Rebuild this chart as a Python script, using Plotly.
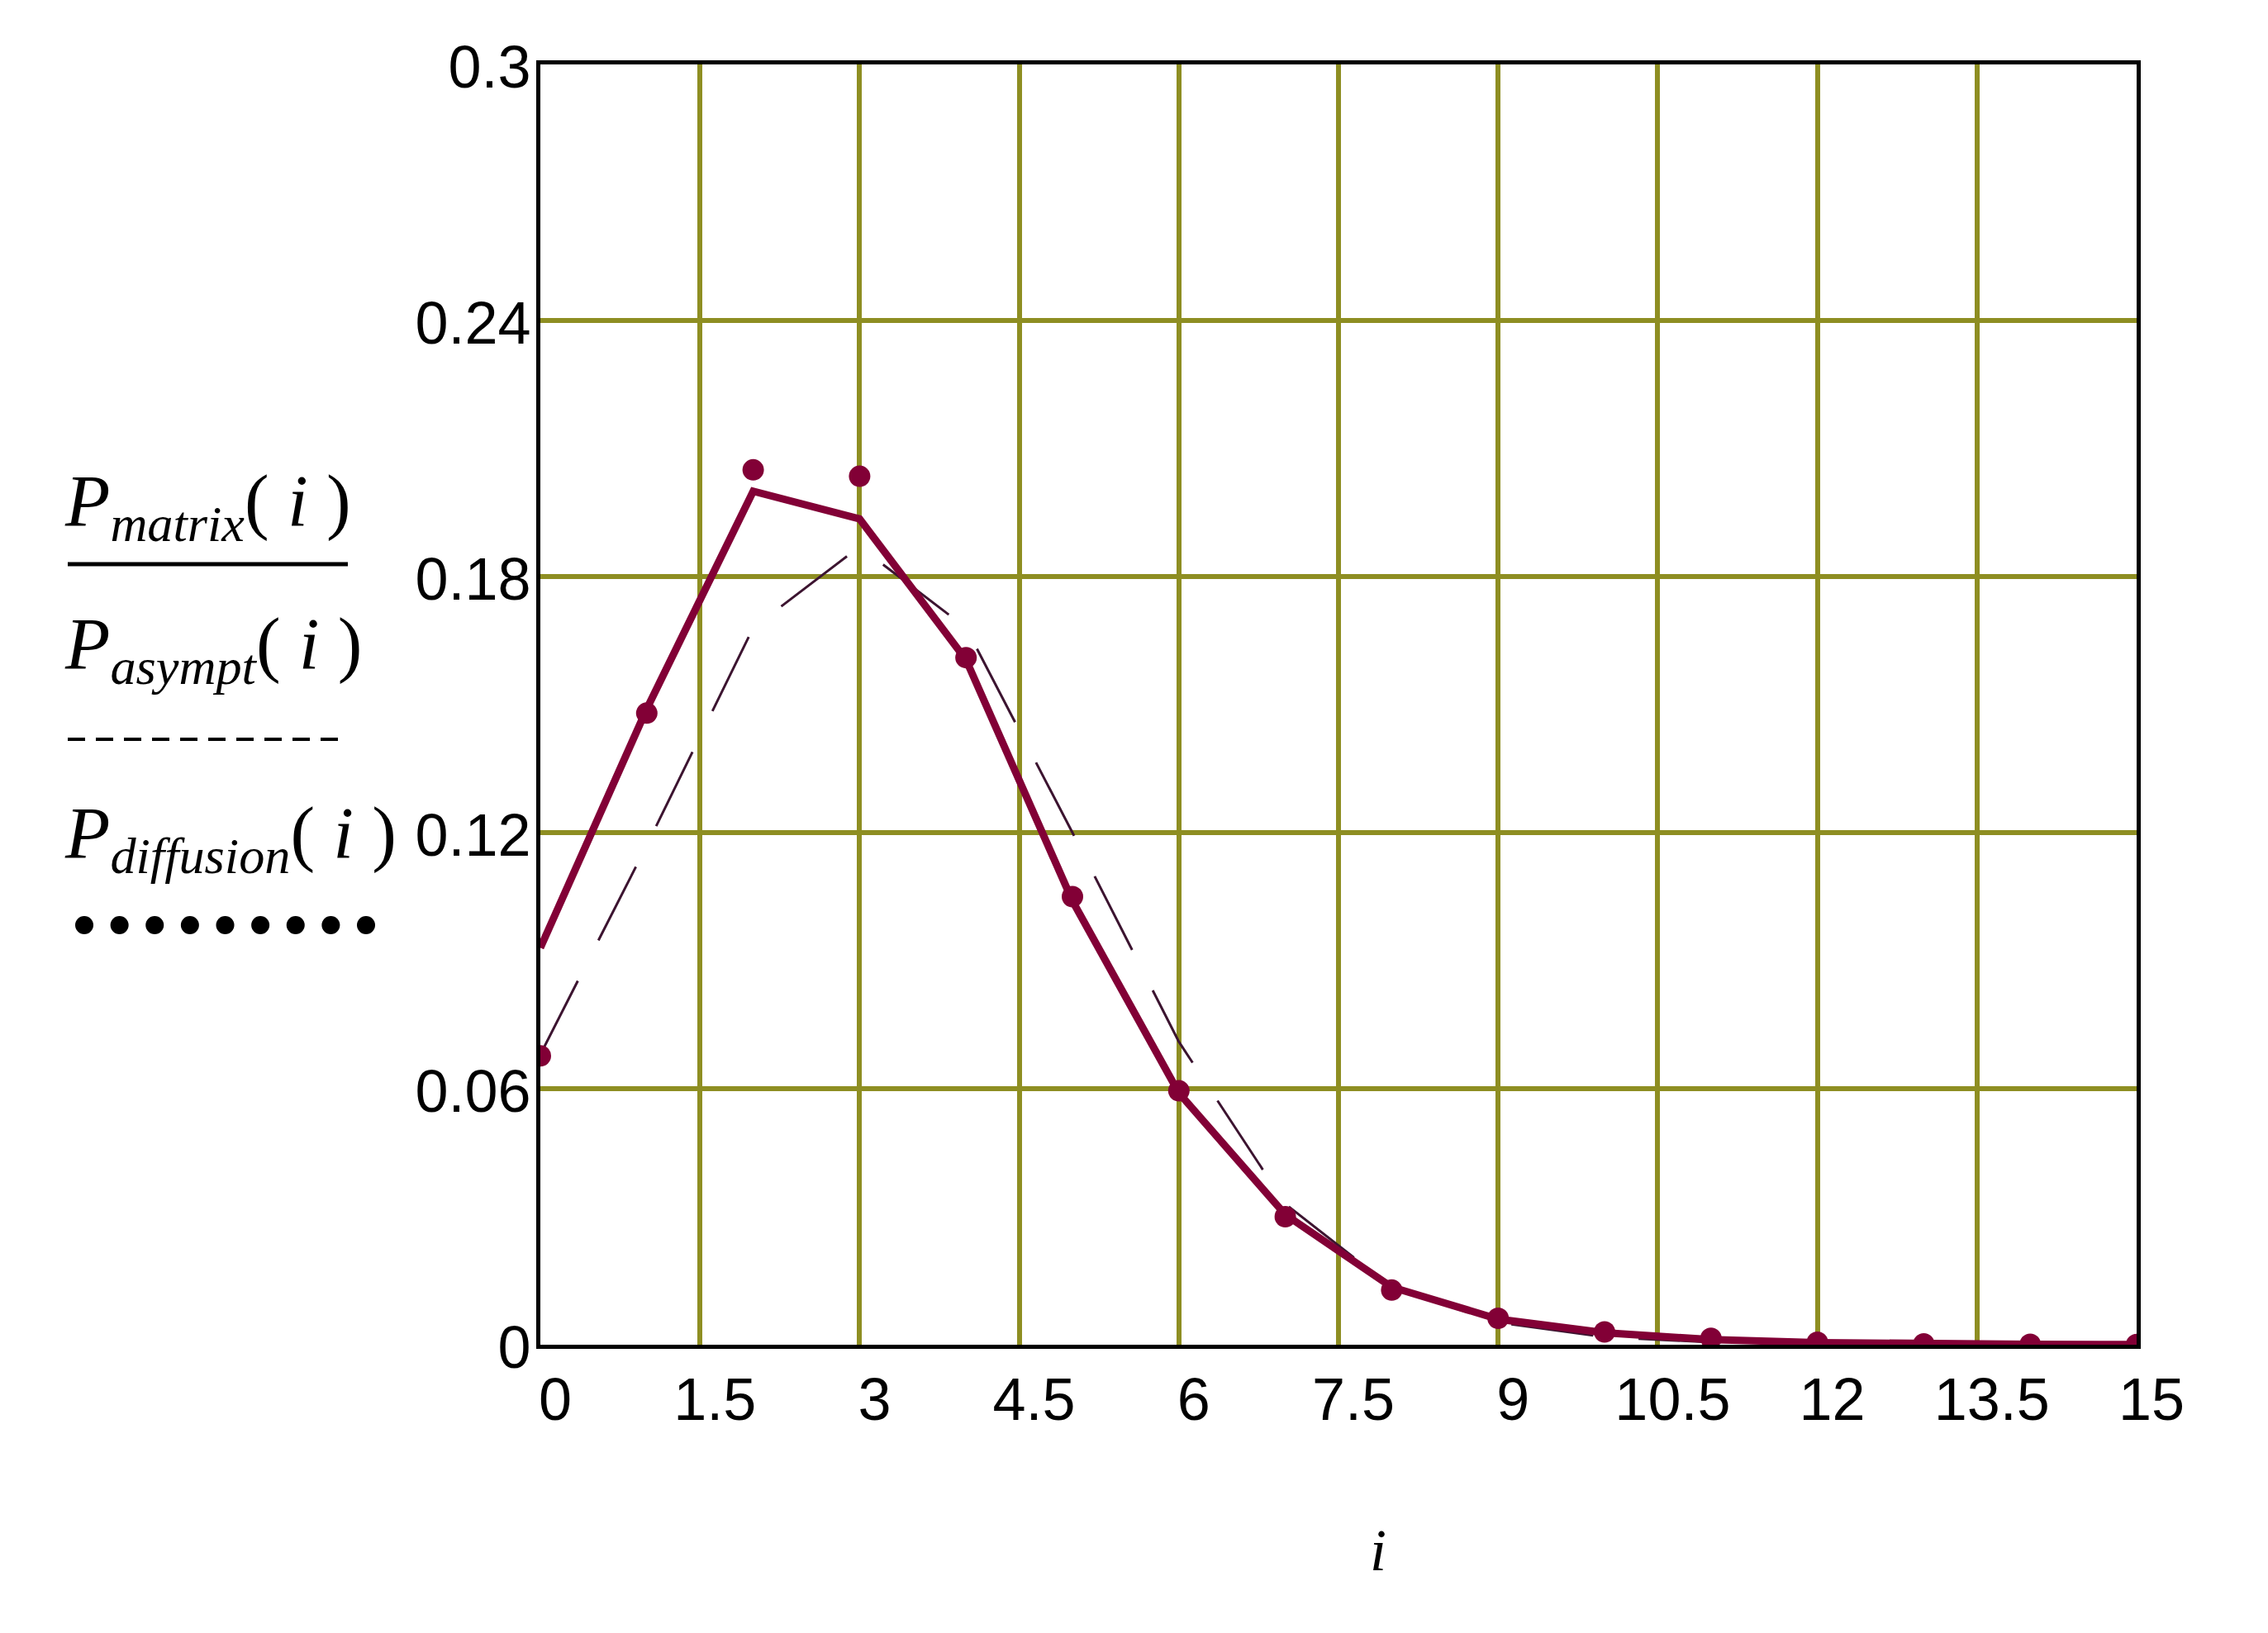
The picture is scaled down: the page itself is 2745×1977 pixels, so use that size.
import plotly.graph_objects as go

# ---- data ----
i_vals = list(range(16))
p_matrix = [0.093, 0.149, 0.2000, 0.1935, 0.1605, 0.104, 0.059, 0.0305,
            0.0135, 0.0060, 0.0028, 0.0012, 0.0005, 0.0002, 0.0001, 0.00005]
p_asympt = [0.068, 0.117, 0.168, 0.187, 0.168, 0.120, 0.071, 0.033,
            0.0135, 0.0052, 0.0018, 0.0006, 0.0002, 0.0001, 0.0, 0.0]
p_diffusion = [0.0677, 0.148, 0.205, 0.2035, 0.161, 0.105, 0.0595, 0.030,
               0.0128, 0.0062, 0.0030, 0.0015, 0.0006, 0.0002, 0.0001, 0.00005]

x_ticks = [0, 1.5, 3, 4.5, 6, 7.5, 9, 10.5, 12, 13.5, 15]
x_ticktext = ["0", "1.5", "3", "4.5", "6", "7.5", "9", "10.5", "12", "13.5", "15"]
y_ticks = [0, 0.06, 0.12, 0.18, 0.24, 0.3]
y_ticktext = ["0", "0.06", "0.12", "0.18", "0.24", "0.3"]

# ---- layout geometry (screen pixels of the reference) ----
W, H = 2745, 1977
OFF = 8                       # default page body margin
FW, FH = W - 2 * OFF, H - 2 * OFF
L, R, T, B = 654, 2586, 78, 1628
PW, PH = R - L, B - T

def px(xp):
    return (xp - L) / PW

def py(yp):
    return (B - yp) / PH

MAROON = "#820036"
DARK = "#3c1430"
GRID = "#8e8e22"
TICKFONT = dict(family="Liberation Sans Narrow, Liberation Sans, Arial", size=72, color="black")
SERIF = "Liberation Serif, Times New Roman, serif"

fig = go.Figure()
fig.add_trace(go.Scatter(x=i_vals, y=p_asympt, mode="lines",
                         line=dict(color=DARK, width=3, dash="100px,55px"),
                         showlegend=False))
fig.add_trace(go.Scatter(x=i_vals, y=p_matrix, mode="lines",
                         line=dict(color=MAROON, width=9),
                         showlegend=False))
fig.add_trace(go.Scatter(x=i_vals, y=p_diffusion, mode="markers",
                         marker=dict(color=MAROON, size=26),
                         showlegend=False))

axis_common = dict(showline=True, linecolor="black", linewidth=5, mirror=True,
                   showgrid=True, gridcolor=GRID, gridwidth=6, zeroline=False,
                   ticks="", tickfont=TICKFONT, layer="below traces")

fig.update_xaxes(range=[0, 15], tickvals=x_ticks, ticktext=x_ticktext,
                 ticklabelstandoff=0, ticklabelshift=18, **axis_common)
fig.update_yaxes(range=[0, 0.3], tickvals=y_ticks, ticktext=y_ticktext,
                 ticklabelstandoff=-8, ticklabelshift=3, **axis_common)

# ---- Mathcad-style legend on the left ----
legend_items = [
    ("<i>P</i><sub><i>matrix</i></sub>( <i>i</i> )", 612),
    ("<i>P</i><sub><i>asympt</i></sub>( <i>i</i> )", 785),
    ("<i>P</i><sub><i>diffusion</i></sub>( <i>i</i> )", 1014),
]
annotations = []
for txt, yc in legend_items:
    annotations.append(dict(text=txt, x=px(76), y=py(yc), xref="paper", yref="paper",
                            xanchor="left", yanchor="middle", showarrow=False,
                            font=dict(family=SERIF, size=89, color="black")))
annotations.append(dict(text="<i>i</i>", x=px(1668), y=py(1877), xref="paper", yref="paper",
                        xanchor="center", yanchor="middle", showarrow=False,
                        font=dict(family=SERIF, size=72, color="black")))

shapes = [
    dict(type="line", xref="paper", yref="paper", x0=px(82), x1=px(421),
         y0=py(683), y1=py(683), line=dict(color="black", width=5)),
    dict(type="line", xref="paper", yref="paper", x0=px(82), x1=px(421),
         y0=py(895), y1=py(895), line=dict(color="black", width=4, dash="21px,13px")),
]
r = 11
for k in range(9):
    cx = 102 + k * (443 - 102) / 8
    shapes.append(dict(type="circle", xref="paper", yref="paper",
                       x0=px(cx - r), x1=px(cx + r), y0=py(1120 + r), y1=py(1120 - r),
                       fillcolor="black", line=dict(color="black", width=0)))

fig.update_layout(width=FW, height=FH,
                  margin=dict(l=L - OFF, r=FW - (R - OFF), t=T - OFF, b=FH - (B - OFF), pad=0),
                  paper_bgcolor="white", plot_bgcolor="white",
                  annotations=annotations, shapes=shapes, showlegend=False)

fig.write_html("out.html")
